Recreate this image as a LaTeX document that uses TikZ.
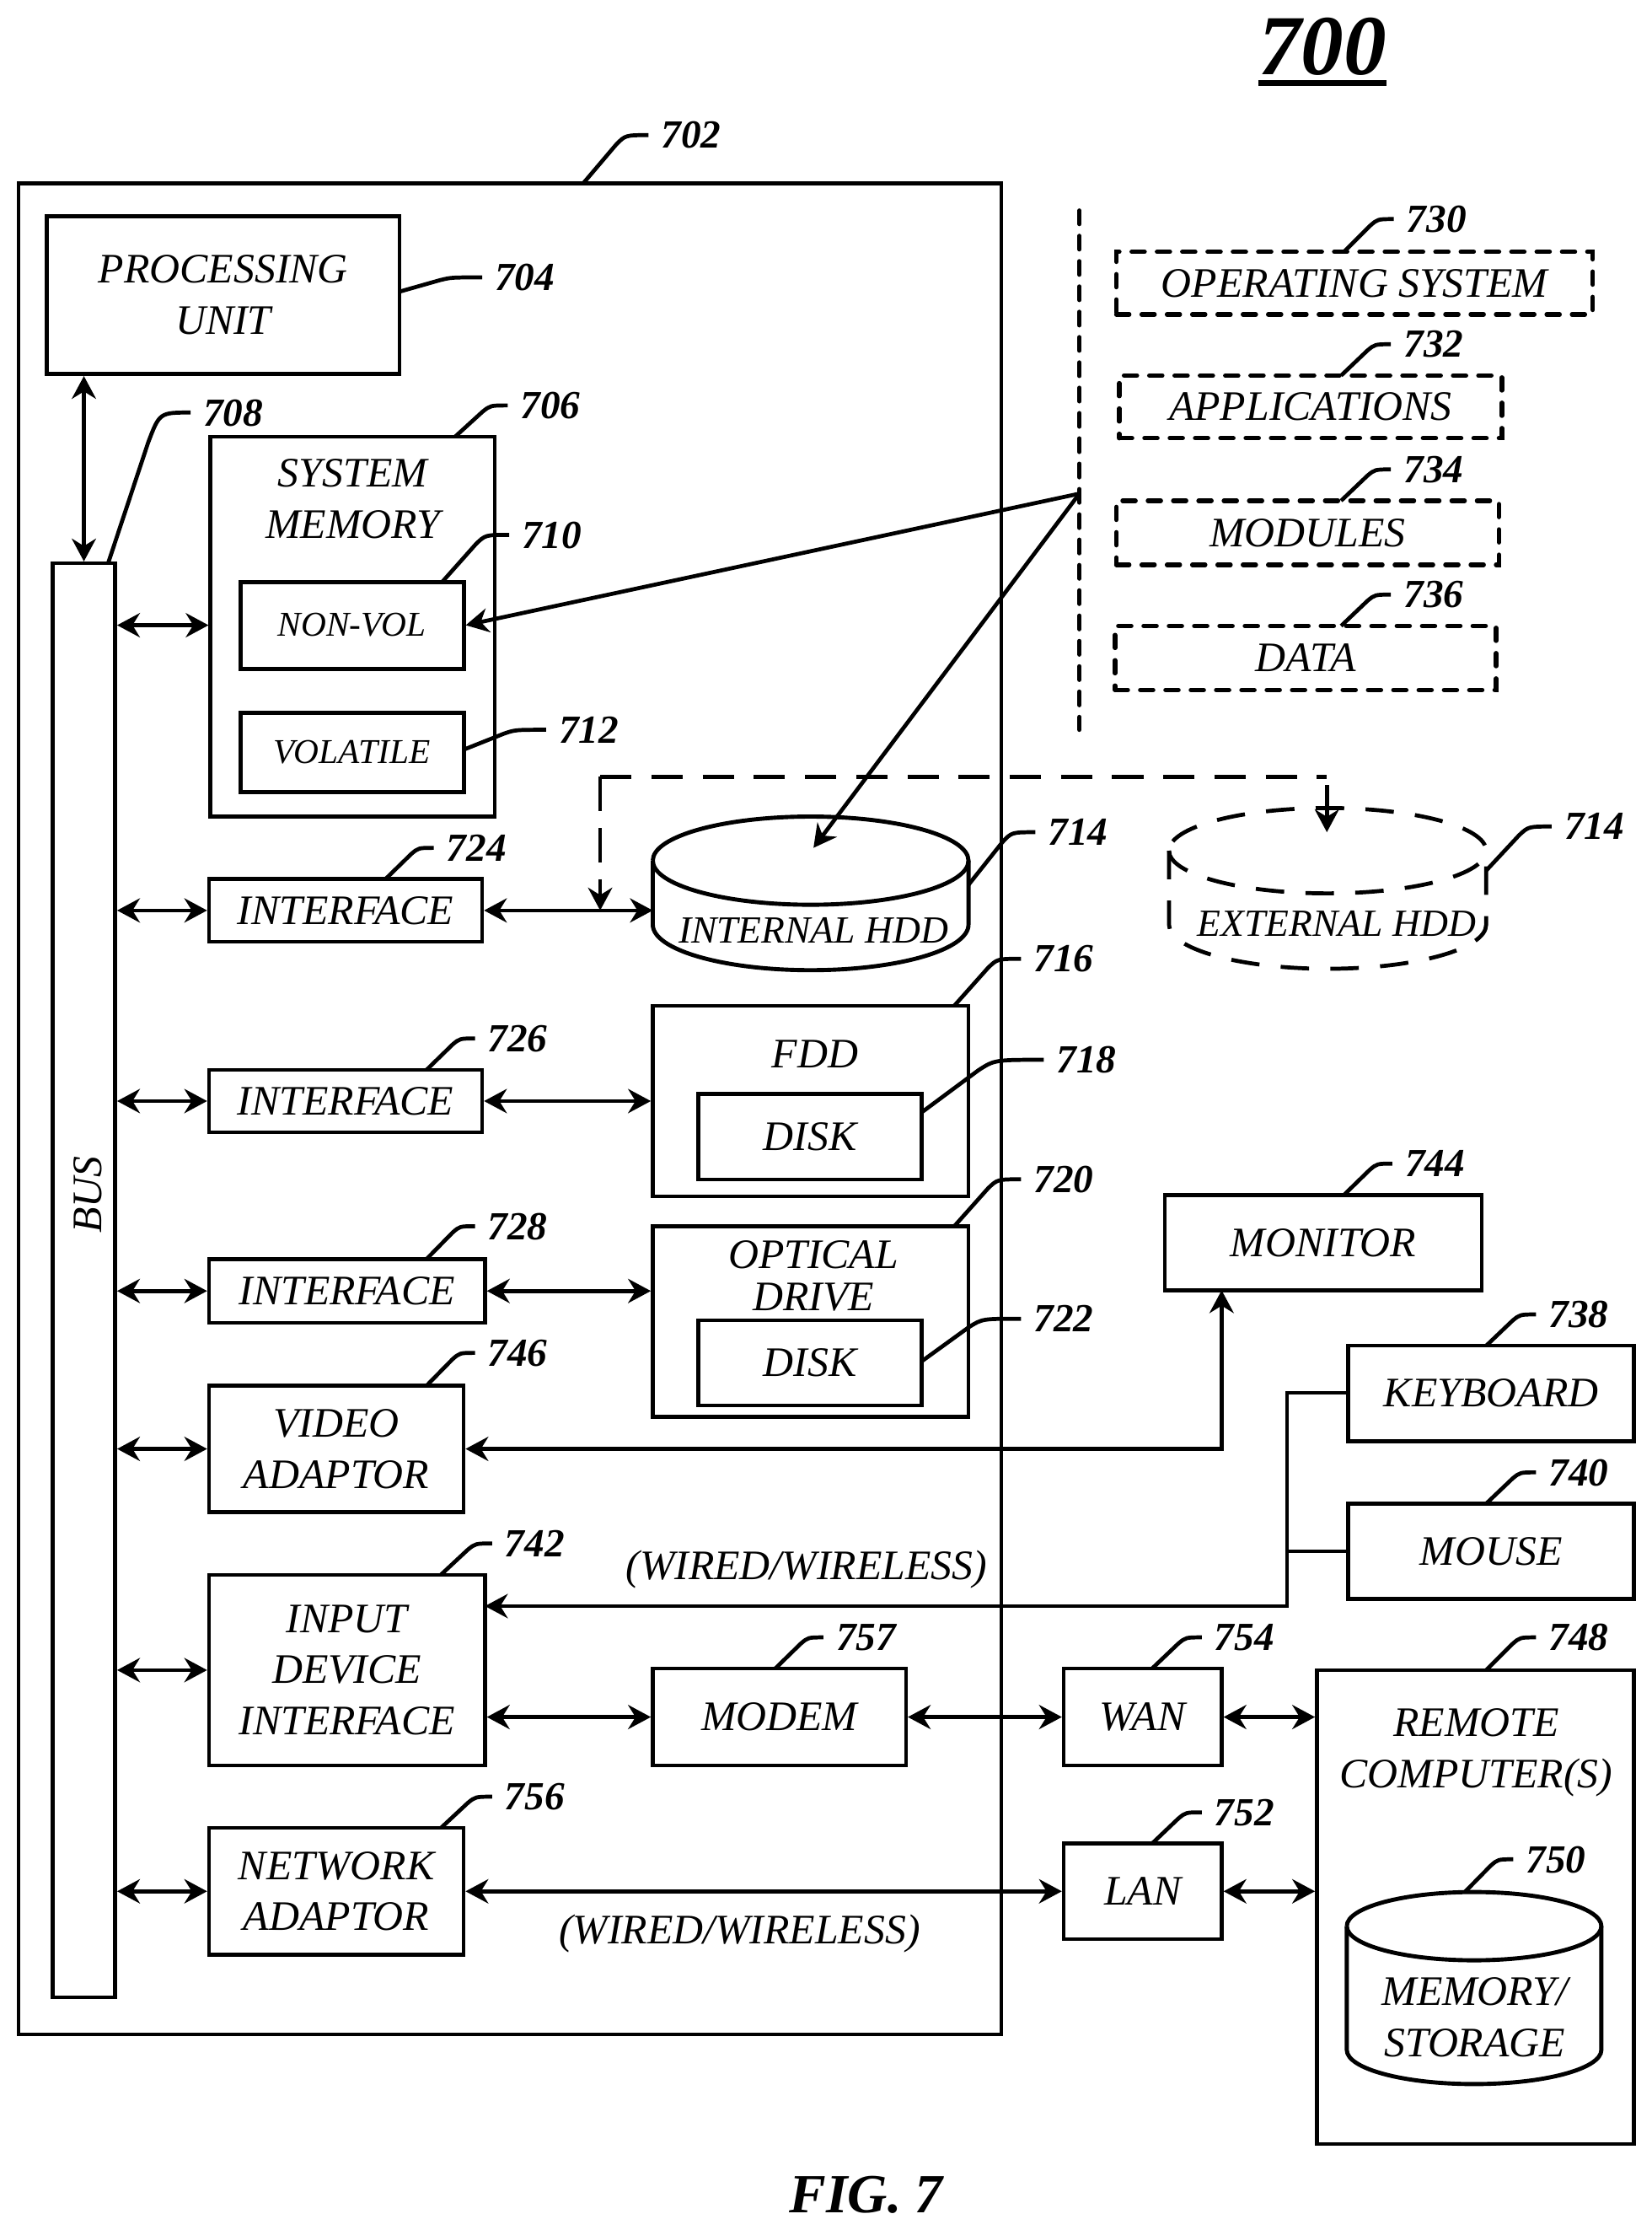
\documentclass[tikz,border=0pt]{standalone}
\usepackage{fontspec}
\setmainfont{Liberation Serif}
\usetikzlibrary{arrows.meta,calc}
\newcommand{\bx}[7][boxs]{%
  \pgfmathsetmacro{\cxx}{(#3+#5)/2}\pgfmathsetmacro{\cyy}{(#4+#6)/2}%
  \pgfmathsetmacro{\www}{#5-#3}\pgfmathsetmacro{\hhh}{#6-#4}%
  \node[#1,minimum width=\www pt,minimum height=\hhh pt] (#2) at (\cxx,\cyy) {#7};}
\newcommand{\lab}[6]{%
  \coordinate (s#1) at (#3,#4);
  \node[reflabel] (l#1) at (#5,#6) {#2};
  \draw[leader] let \p1=(s#1), \p2=(l#1.west) in (s#1) -- ({\x1+0.42*(\x2-\x1)},{\y1+0.8*(\y2-\y1)}) .. controls ({\x1+0.54*(\x2-\x1)},{\y2}) .. (\p2);}
\tikzset{
  boxs/.style={draw=black,line width=2.7pt,fill=none,inner sep=0pt,align=center,font=\fontsize{29.5}{36}\selectfont\itshape},
  smallbox/.style={boxs,line width=3pt,font=\fontsize{24.5}{30}\selectfont\itshape},
  dashbox/.style={boxs,line width=3.2pt,line cap=round,dash pattern=on 9pt off 8.8pt},
  txt/.style={inner sep=0pt,align=center,font=\fontsize{29.5}{36}\selectfont\itshape},
  reflabel/.style={anchor=west,inner sep=0pt,outer sep=0pt,xshift=0pt,font=\fontsize{28}{30}\selectfont\bfseries\itshape,text depth=0pt},
  leader/.style={line width=2.8pt,shorten >=9pt},
  link/.style={line width=2.8pt},
  bi/.style={link,{Stealth[length=16pt,width=17pt]}-{Stealth[length=16pt,width=17pt]}},
  uni/.style={link,-{Stealth[length=16pt,width=17pt]}},
  dashlink/.style={line width=2.8pt,dash pattern=on 22pt off 14pt},
  cyl/.style={line width=2.9pt},
  cyld/.style={line width=2.8pt,dash pattern=on 20pt off 15pt},
}
\begin{document}
\begin{tikzpicture}[x=1pt,y=-1pt]
\useasboundingbox (0,0) rectangle (1161.6,1567.6);
\fill[white] (0,0) rectangle (1161.6,1567.6);
% title
\node[inner sep=0pt,font=\fontsize{60}{60}\selectfont\bfseries\itshape] (title) at (930,33) {700};
\draw[line width=4pt] ($(title.south west)+(0,5)$) -- ($(title.south east)+(0,5)$);
\node[inner sep=0pt,font=\fontsize{38.8}{40}\selectfont\bfseries\itshape] (fig) at (609,1543) {FIG. 7};
% boxes
\bx{b702}{13}{129}{704}{1430}{}
\bx{pu}{33}{152}{281}{263}{PROCESSING\\UNIT}
\bx{bus}{37}{396}{81}{1404}{}
\node[txt,rotate=90] (bustxt) at (62,840) {BUS};
\bx{sysmem}{148}{307}{348}{574}{}
\node[txt] (smtxt) at (248,350.5) {SYSTEM\\MEMORY};
\bx[smallbox]{nonvol}{169}{409}{326}{470}{NON-VOL}
\bx[smallbox]{volat}{169}{501}{326}{557}{VOLATILE}
\bx{ifa}{147}{618}{339}{662}{INTERFACE}
\bx{ifb}{147}{752}{339}{796}{INTERFACE}
\bx{ifc}{147}{885}{341}{930}{INTERFACE}
\bx{video}{147}{974}{326}{1063}{VIDEO\\ADAPTOR}
\bx{input}{147}{1107}{341}{1241}{INPUT\\DEVICE\\INTERFACE}
\bx{netad}{147}{1285}{326}{1374}{NETWORK\\ADAPTOR}
\bx{modem}{459}{1173}{637}{1241}{MODEM}
\bx{fdd}{459}{707}{681}{841}{}
\node[txt] (fddtxt) at (573,741) {FDD};
\bx{diska}{491}{769}{648}{829}{DISK}
\bx{optd}{459}{862}{681}{996}{}
\node[txt,font=\fontsize{29.5}{29.5}\selectfont\itshape] (opttxt) at (572,897) {OPTICAL\\DRIVE};
\bx{diskb}{491}{928}{648}{988}{DISK}
\bx[dashbox]{os}{785}{177}{1120}{221}{OPERATING SYSTEM}
\bx[dashbox]{apps}{787}{264}{1056}{308}{APPLICATIONS}
\bx[dashbox]{mods}{785}{352}{1054}{397}{MODULES}
\bx[dashbox]{data}{784}{440}{1052}{485}{DATA}
\bx{monitor}{819}{840}{1042}{907}{MONITOR}
\bx{keyb}{948}{946}{1149}{1013}{KEYBOARD}
\bx{mouse}{948}{1057}{1149}{1124}{MOUSE}
\bx{wan}{748}{1173}{859}{1241}{WAN}
\bx{lan}{748}{1296}{859}{1363}{LAN}
\bx{remote}{926}{1174}{1149}{1507}{}
\node[txt] (remtxt) at (1038,1232) {REMOTE\\COMPUTER(S)};
% cylinders
\draw[cyl] (459,605) arc[start angle=180,end angle=-180,x radius=111,y radius=31];
\draw[cyl] (459,605) -- (459,650) arc[start angle=180,end angle=0,x radius=111,y radius=32] -- (681,605);
\node[txt,font=\fontsize{27}{30}\selectfont\itshape] (ihdd) at (572,654) {INTERNAL HDD};
\draw[cyld] (822,598) arc[start angle=180,end angle=-180,x radius=111.5,y radius=30];
\draw[cyld] (822,598) -- (822,650) arc[start angle=180,end angle=0,x radius=111.5,y radius=31] -- (1045,598);
\node[txt,font=\fontsize{27}{30}\selectfont\itshape] (ehdd) at (940,649) {EXTERNAL HDD};
\draw[cyl] (947,1354) arc[start angle=180,end angle=-180,x radius=89.5,y radius=24];
\draw[cyl] (947,1354) -- (947,1441) arc[start angle=180,end angle=0,x radius=89.5,y radius=24] -- (1126,1354);
\node[txt] (memtxt) at (1037,1418) {MEMORY/\\STORAGE};
% free texts
\node[txt] (wa) at (567,1103.5) {(WIRED/WIRELESS)};
\node[txt] (wb) at (520,1359.5) {(WIRED/WIRELESS)};
% connector points
\coordinate (sep1) at (759,148);
\coordinate (sep2) at (759,513);
\coordinate (sepj) at (759,347);
\coordinate (hddtop) at (572,596);
\coordinate (hddw) at (459,640);
\coordinate (tapa) at (422,640);
\coordinate (tapb) at (422,546);
\coordinate (tapc) at (933,546);
\coordinate (tapd) at (933,585);
\coordinate (mon) at (859,907);
\coordinate (kbj) at (905,979);
\coordinate (inj) at (341,1129);
% connectors
\draw[bi] (pu.south -| bus.north) -- (bus.north);
\draw[bi] (bus.east |- nonvol.west) -- (sysmem.west |- nonvol.west);
\draw[bi] (bus.east |- ifa.west) -- (ifa.west);
\draw[bi] (ifa.east) -- (hddw);
\draw[bi] (bus.east |- ifb.west) -- (ifb.west);
\draw[bi] (ifb.east) -- (fdd.west |- ifb.east);
\draw[bi] (bus.east |- ifc.west) -- (ifc.west);
\draw[bi] (ifc.east) -- (optd.west |- ifc.east);
\draw[bi] (bus.east |- video.west) -- (video.west);
\draw[bi] (bus.east |- input.west) -- (input.west);
\draw[bi] (bus.east |- netad.west) -- (netad.west);
\draw[bi] (input.east |- modem.west) -- (modem.west);
\draw[bi] (modem.east) -- (wan.west);
\draw[bi] (wan.east) -- (remote.west |- wan.east);
\draw[bi] (lan.east) -- (remote.west |- lan.east);
\draw[bi] (netad.east) -- (lan.west);
\draw[bi] (video.east) -| (mon);
\draw[uni] (keyb.west |- kbj) -- (kbj) |- (inj);
\draw[link] (mouse.west) -- (kbj |- mouse.west);
\draw[line width=3pt,line cap=round,dash pattern=on 9.5pt off 8.3pt] (sep1) -- (sep2);
\draw[uni] (sepj) -- (nonvol.east);
\draw[uni] (sepj) -- (hddtop);
\draw[dashlink] (tapb) -- (tapc);
\draw[dashlink,-{Stealth[length=16pt,width=17pt]},dash pattern=on 24pt off 12pt] (tapb) -- (tapa);
\draw[link,-{Stealth[length=16pt,width=17pt]}] (tapc) ++(0,6) -- (tapd);
% reference numerals
\lab{702}{702}{410}{129}{465}{95}
\lab{704}{704}{281}{205}{348}{195}
\lab{706}{706}{320}{307}{366}{285}
\lab{708}{708}{76}{396}{143}{290}
\lab{710}{710}{311}{409}{367}{376}
\lab{712}{712}{326}{527}{393}{513}
\lab{714a}{714}{681}{622}{737}{585}
\lab{716}{716}{671}{707}{727}{674}
\lab{718}{718}{648}{782}{743}{745}
\lab{720}{720}{671}{862}{727}{829}
\lab{722}{722}{648}{957}{727}{927}
\lab{724}{724}{271}{618}{314}{596}
\lab{726}{726}{300}{752}{343}{730}
\lab{728}{728}{300}{885}{343}{862}
\lab{746}{746}{300}{974}{343}{951}
\lab{742}{742}{310}{1107}{355}{1085}
\lab{756}{756}{310}{1285}{355}{1263}
\lab{757}{757}{545}{1173}{588}{1151}
\lab{730}{730}{945}{177}{989}{154}
\lab{732}{732}{943}{264}{987}{242}
\lab{734}{734}{943}{352}{987}{330}
\lab{736}{736}{943}{440}{987}{418}
\lab{714b}{714}{1045}{612}{1100}{581}
\lab{744}{744}{945}{840}{988}{818}
\lab{738}{738}{1045}{946}{1089}{924}
\lab{740}{740}{1045}{1057}{1089}{1035}
\lab{754}{754}{810}{1173}{854}{1151}
\lab{752}{752}{810}{1296}{854}{1274}
\lab{748}{748}{1045}{1174}{1089}{1151}
\lab{750}{750}{1030}{1330}{1073}{1307}
\end{tikzpicture}
\end{document}
